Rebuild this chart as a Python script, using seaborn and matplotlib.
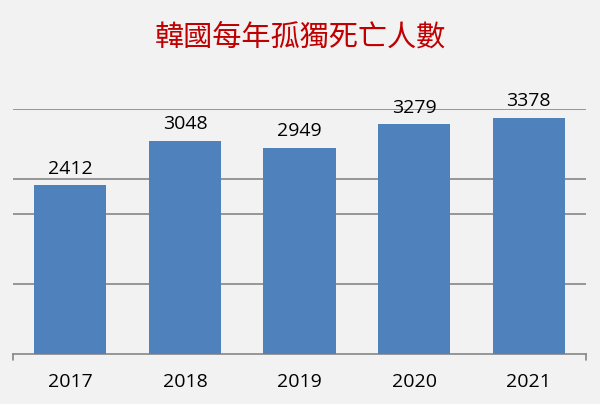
import matplotlib
matplotlib.use('Agg')
import matplotlib.pyplot as plt
import seaborn as sns
import pandas as pd

years = ['2017', '2018', '2019', '2020', '2021']
deaths = [2412, 3048, 2949, 3279, 3378]
grid_values = [1000, 2000, 2500, 3500]
title = '韓國每年孤獨死亡人數'

df = pd.DataFrame({'year': years, 'deaths': deaths})

sns.set_style('white')
plt.rcParams['font.family'] = ['Open Sans', 'DejaVu Sans']

bg = '#F2F2F2'
fig = plt.figure(figsize=(6, 4.04), dpi=100, facecolor=bg)
ax = fig.add_axes([13 / 600, 50 / 404, 573 / 600, 245 / 404])
ax.set_facecolor(bg)

sns.barplot(data=df, x='year', y='deaths', color='#4F81BD', saturation=1,
            width=0.63, linewidth=0, edgecolor='none', ax=ax, zorder=3)

ax.set_ylim(0, 3500)
ax.set_xlim(-0.5, 4.5)
for g in grid_values:
    ax.axhline(g, color='#868686', lw=1.2, zorder=1)

for i, v in enumerate(deaths):
    ax.text(i, v + 105, str(v), ha='center', va='bottom', fontsize=14, color='black')

for s in ['top', 'right', 'left']:
    ax.spines[s].set_visible(False)
ax.spines['bottom'].set_color('#868686')
ax.spines['bottom'].set_linewidth(1.2)
ax.set_yticks([])
ax.set_xlabel('')
ax.set_ylabel('')
ax.tick_params(axis='x', length=0, labelsize=14, pad=14, colors='black')
# end ticks at the ends of the axis
ax.plot([-0.5, -0.5], [0, -90], color='#868686', lw=1.2, clip_on=False)
ax.plot([4.5, 4.5], [0, -90], color='#868686', lw=1.2, clip_on=False)

fig.text(0.5, 1 - 38 / 404, title, ha='center', va='center', fontsize=21,
         color='#C00000', fontweight='medium',
         family=['Noto Sans CJK TC', 'DejaVu Sans'])

fig.savefig('out.png', dpi=100, facecolor=bg)
